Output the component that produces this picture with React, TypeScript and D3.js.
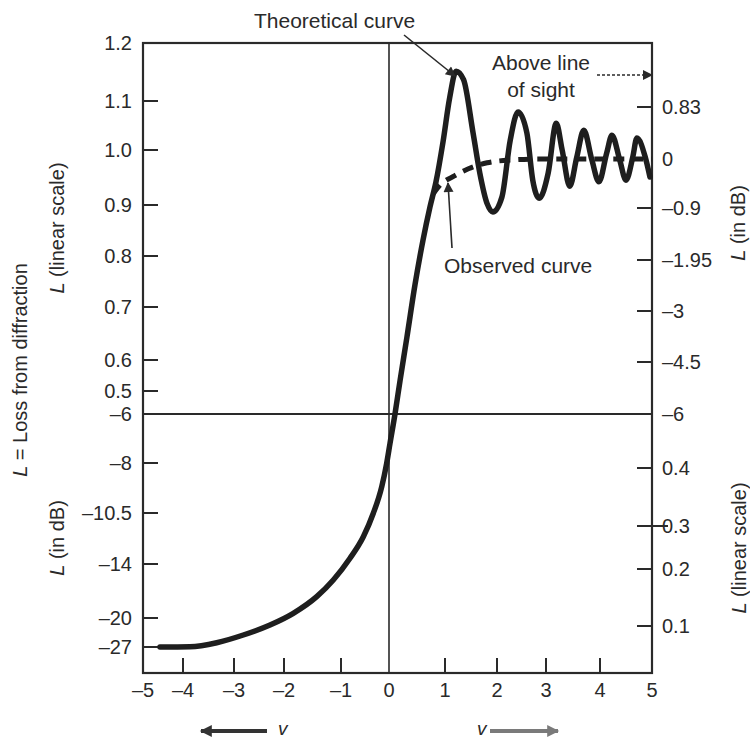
import React from 'react';
import * as d3 from 'd3';

// ---------- data ----------
const xTicks = [-5, -4, -3, -2, -1, 0, 1, 2, 3, 4, 5];
const xTickLabels = ['–5', '–4', '–3', '–2', '–1', '0', '1', '2', '3', '4', '5'];

const leftLinearTicks = [0.5, 0.6, 0.7, 0.8, 0.9, 1.0, 1.1, 1.2];
const leftLinearLabels = ['0.5', '0.6', '0.7', '0.8', '0.9', '1.0', '1.1', '1.2'];

const leftDbTicks = [-27, -20, -14, -10.5, -8, -6];
const leftDbLabels = ['–27', '–20', '–14', '–10.5', '–8', '–6'];

const rightDbTicks = [-6, -4.5, -3, -1.95, -0.9, 0, 0.83];
const rightDbLabels = ['–6', '–4.5', '–3', '–1.95', '–0.9', '0', '0.83'];

const rightLinearTicks = [0.1, 0.2, 0.3, 0.4];
const rightLinearLabels = ['0.1', '0.2', '0.3', '0.4'];

// theoretical curve: v and L (dB)
const theoreticalV = [-4.575, -3.863, -3.339, -2.814, -2.28, -1.837, -1.426, -1.135, -0.8125, -0.535, -0.327, -0.152, -0.048, 0.018, 0.107, 0.196, 0.321, 0.464, 0.607, 0.732, 0.839, 0.964, 1.089, 1.214, 1.357, 1.54, 1.67, 1.81, 1.92, 2.10, 2.27, 2.43, 2.61, 2.73, 2.86, 3.04, 3.19, 3.30, 3.44, 3.57, 3.70, 3.85, 3.98, 4.13, 4.23, 4.38, 4.50, 4.63, 4.71, 4.87, 4.96];
const theoreticalDb = [-27, -26.93, -25.96, -24.1, -21.69, -19.48, -17.63, -15.78, -13.61, -12.13, -10.52, -9.19, -8.01, -7.2, -6.0, -5.05, -3.76, -2.46, -1.55, -0.88, -0.42, 0.27, 0.935, 1.25, 1.15, 0.415, -0.26, -0.82, -0.98, -0.70, 0.30, 0.75, 0.415, -0.39, -0.72, -0.26, 0.57, 0.14, -0.50, 0.03, 0.46, -0.02, -0.42, 0.10, 0.38, -0.02, -0.39, 0.03, 0.335, 0.03, -0.33];

// observed curve
const observedV = [0.79, 0.91, 1.18, 1.45, 1.81, 2.25, 2.88, 3.5, 4.2, 5.0];
const observedDb = [-0.64, -0.48, -0.31, -0.18, -0.07, -0.02, 0, 0, 0, 0];

// ---------- layout (hand-drawn, non-uniform axes) ----------
const W = 750;
const H = 741;
const X_POS = [143, 183, 234, 284, 341, 389, 445, 497, 546, 600, 652];
const DB_DOMAIN = [-27, -20, -14, -10.5, -8, -6, -4.5, -3, -1.95, -0.9, 0, 0.83, 1.58];
const DB_POS = [647, 618, 564, 513, 463, 414, 362, 311, 260, 208, 159, 107, 43];
const LIN_UP_POS = [391, 360, 307, 256, 205, 150, 101, 43];
const LIN_LOW_POS = [626, 569, 526, 468];
const TOP = 43;
const BOTTOM = 673;

const FONT = '"Liberation Sans", Arial, Helvetica, sans-serif';
const INK = '#2a2a2a';

const x = d3.scaleLinear().domain(xTicks).range(X_POS);
const yDb = d3.scaleLinear().domain(DB_DOMAIN).range(DB_POS);
const yLinUp = d3.scaleLinear().domain(leftLinearTicks).range(LIN_UP_POS);
const yLinLow = d3.scaleLinear().domain(rightLinearTicks).range(LIN_LOW_POS);

const LEFT = x(-5);
const RIGHT = x(5);

const line = d3
  .line<[number, number]>()
  .x((d) => x(d[0]))
  .y((d) => yDb(d[1]))
  .curve(d3.curveMonotoneX);

const theoretical: [number, number][] = theoreticalV.map((v, i) => [v, theoreticalDb[i]]);
const observed: [number, number][] = observedV.map((v, i) => [v, observedDb[i]]);

export default function App() {
  const tickLen = 15;
  return (
    <svg width={W} height={H} style={{ position: 'absolute', left: 0, top: 0, background: '#fff' }} fontFamily={FONT}>
      <defs>
        <marker id="ah" viewBox="0 0 10 10" refX="9" refY="5" markerWidth="12" markerHeight="10" markerUnits="userSpaceOnUse" orient="auto">
          <path d="M0,0 L10,5 L0,10 z" fill={INK} />
        </marker>
        <marker id="bigL" viewBox="0 0 10 10" refX="9" refY="5" markerWidth="22" markerHeight="12" markerUnits="userSpaceOnUse" orient="auto">
          <path d="M0,0 L10,5 L0,10 z" fill="#333" />
        </marker>
        <marker id="bigR" viewBox="0 0 10 10" refX="9" refY="5" markerWidth="22" markerHeight="12" markerUnits="userSpaceOnUse" orient="auto">
          <path d="M0,0 L10,5 L0,10 z" fill="#7a7a7a" />
        </marker>
      </defs>

      {/* frame */}
      <rect x={LEFT} y={TOP} width={RIGHT - LEFT} height={BOTTOM - TOP} fill="none" stroke={INK} strokeWidth={2.2} />
      {/* reference lines */}
      <line x1={x(0)} x2={x(0)} y1={TOP} y2={BOTTOM} stroke={INK} strokeWidth={1.6} />
      <line x1={LEFT} x2={RIGHT} y1={yDb(-6)} y2={yDb(-6)} stroke={INK} strokeWidth={1.8} />

      {/* bottom ticks */}
      {xTicks.map((t, i) => (
        <g key={'x' + t}>
          {t !== -5 && t !== 5 && t !== 0 && (
            <line x1={x(t)} x2={x(t)} y1={BOTTOM} y2={BOTTOM - tickLen} stroke={INK} strokeWidth={2} />
          )}
          <text x={x(t)} y={BOTTOM + 24} textAnchor="middle" fontSize={20} fill={INK}>
            {xTickLabels[i]}
          </text>
        </g>
      ))}

      {/* left upper linear ticks */}
      {leftLinearTicks.map((t, i) => (
        <g key={'ll' + t}>
          {t !== 1.2 && <line x1={LEFT} x2={LEFT + tickLen} y1={yLinUp(t)} y2={yLinUp(t)} stroke={INK} strokeWidth={2} />}
          <text x={132} y={yLinUp(t)} dy="0.35em" textAnchor="end" fontSize={20} fill={INK}>
            {leftLinearLabels[i]}
          </text>
        </g>
      ))}

      {/* left lower dB ticks */}
      {leftDbTicks.map((t, i) => (
        <g key={'ld' + t}>
          {t !== -6 && <line x1={LEFT} x2={LEFT + tickLen} y1={yDb(t)} y2={yDb(t)} stroke={INK} strokeWidth={2} />}
          <text x={132} y={yDb(t)} dy="0.35em" textAnchor="end" fontSize={20} fill={INK}>
            {leftDbLabels[i]}
          </text>
        </g>
      ))}

      {/* right upper dB ticks */}
      {rightDbTicks.map((t, i) => (
        <g key={'rd' + t}>
          {t !== -6 && t !== 0 && <line x1={RIGHT - tickLen} x2={RIGHT} y1={yDb(t)} y2={yDb(t)} stroke={INK} strokeWidth={2} />}
          <text x={662} y={yDb(t)} dy="0.35em" textAnchor="start" fontSize={20} fill={INK}>
            {rightDbLabels[i]}
          </text>
        </g>
      ))}

      {/* right lower linear ticks */}
      {rightLinearTicks.map((t, i) => (
        <g key={'rl' + t}>
          <line x1={RIGHT - tickLen} x2={t === 0.3 ? RIGHT + 16 : RIGHT} y1={yLinLow(t)} y2={yLinLow(t)} stroke={INK} strokeWidth={2} />
          <text x={662} y={yLinLow(t)} dy="0.35em" textAnchor="start" fontSize={20} fill={INK}>
            {rightLinearLabels[i]}
          </text>
        </g>
      ))}

      {/* curves */}
      <path d={line(observed) || ''} fill="none" stroke="#1e1e1e" strokeWidth={5} strokeDasharray="11 8" />
      <path d={line(theoretical) || ''} fill="none" stroke="#1e1e1e" strokeWidth={5.5} strokeLinejoin="round" strokeLinecap="round" />

      {/* annotations */}
      <text x={254} y={28} fontSize={21} fill={INK}>Theoretical curve</text>
      <line x1={404} y1={35} x2={455} y2={76} stroke={INK} strokeWidth={1.6} markerEnd="url(#ah)" />

      <text x={541} y={70} fontSize={21} fill={INK} textAnchor="middle">Above line</text>
      <text x={541} y={97} fontSize={21} fill={INK} textAnchor="middle">of sight</text>
      <line x1={597} y1={75} x2={RIGHT} y2={75} stroke={INK} strokeWidth={1.4} strokeDasharray="3 2" markerEnd="url(#ah)" />

      <text x={444} y={273} fontSize={21} fill={INK}>Observed curve</text>
      <line x1={452} y1={248} x2={448} y2={183} stroke={INK} strokeWidth={1.6} markerEnd="url(#ah)" />

      {/* axis titles */}
      <text transform="translate(20,370) rotate(-90)" textAnchor="middle" dy="0.35em" fontSize={20} fill={INK}>
        <tspan fontStyle="italic">L</tspan> = Loss from diffraction
      </text>
      <text transform="translate(57,228) rotate(-90)" textAnchor="middle" dy="0.35em" fontSize={20} fill={INK}>
        <tspan fontStyle="italic">L</tspan> (linear scale)
      </text>
      <text transform="translate(57,538) rotate(-90)" textAnchor="middle" dy="0.35em" fontSize={20} fill={INK}>
        <tspan fontStyle="italic">L</tspan> (in dB)
      </text>
      <text transform="translate(738,223) rotate(-90)" textAnchor="middle" dy="0.35em" fontSize={20} fill={INK}>
        <tspan fontStyle="italic">L</tspan> (in dB)
      </text>
      <text transform="translate(739,548) rotate(-90)" textAnchor="middle" dy="0.35em" fontSize={20} fill={INK}>
        <tspan fontStyle="italic">L</tspan> (linear scale)
      </text>

      {/* direction arrows */}
      <line x1={267} y1={731} x2={201} y2={731} stroke="#333" strokeWidth={4} markerEnd="url(#bigL)" />
      <text x={278} y={735} fontSize={19} fontStyle="italic" fill={INK}>v</text>
      <text x={477} y={735} fontSize={19} fontStyle="italic" fill={INK}>v</text>
      <line x1={490} y1={731} x2={558} y2={731} stroke="#7a7a7a" strokeWidth={4} markerEnd="url(#bigR)" />
    </svg>
  );
}
